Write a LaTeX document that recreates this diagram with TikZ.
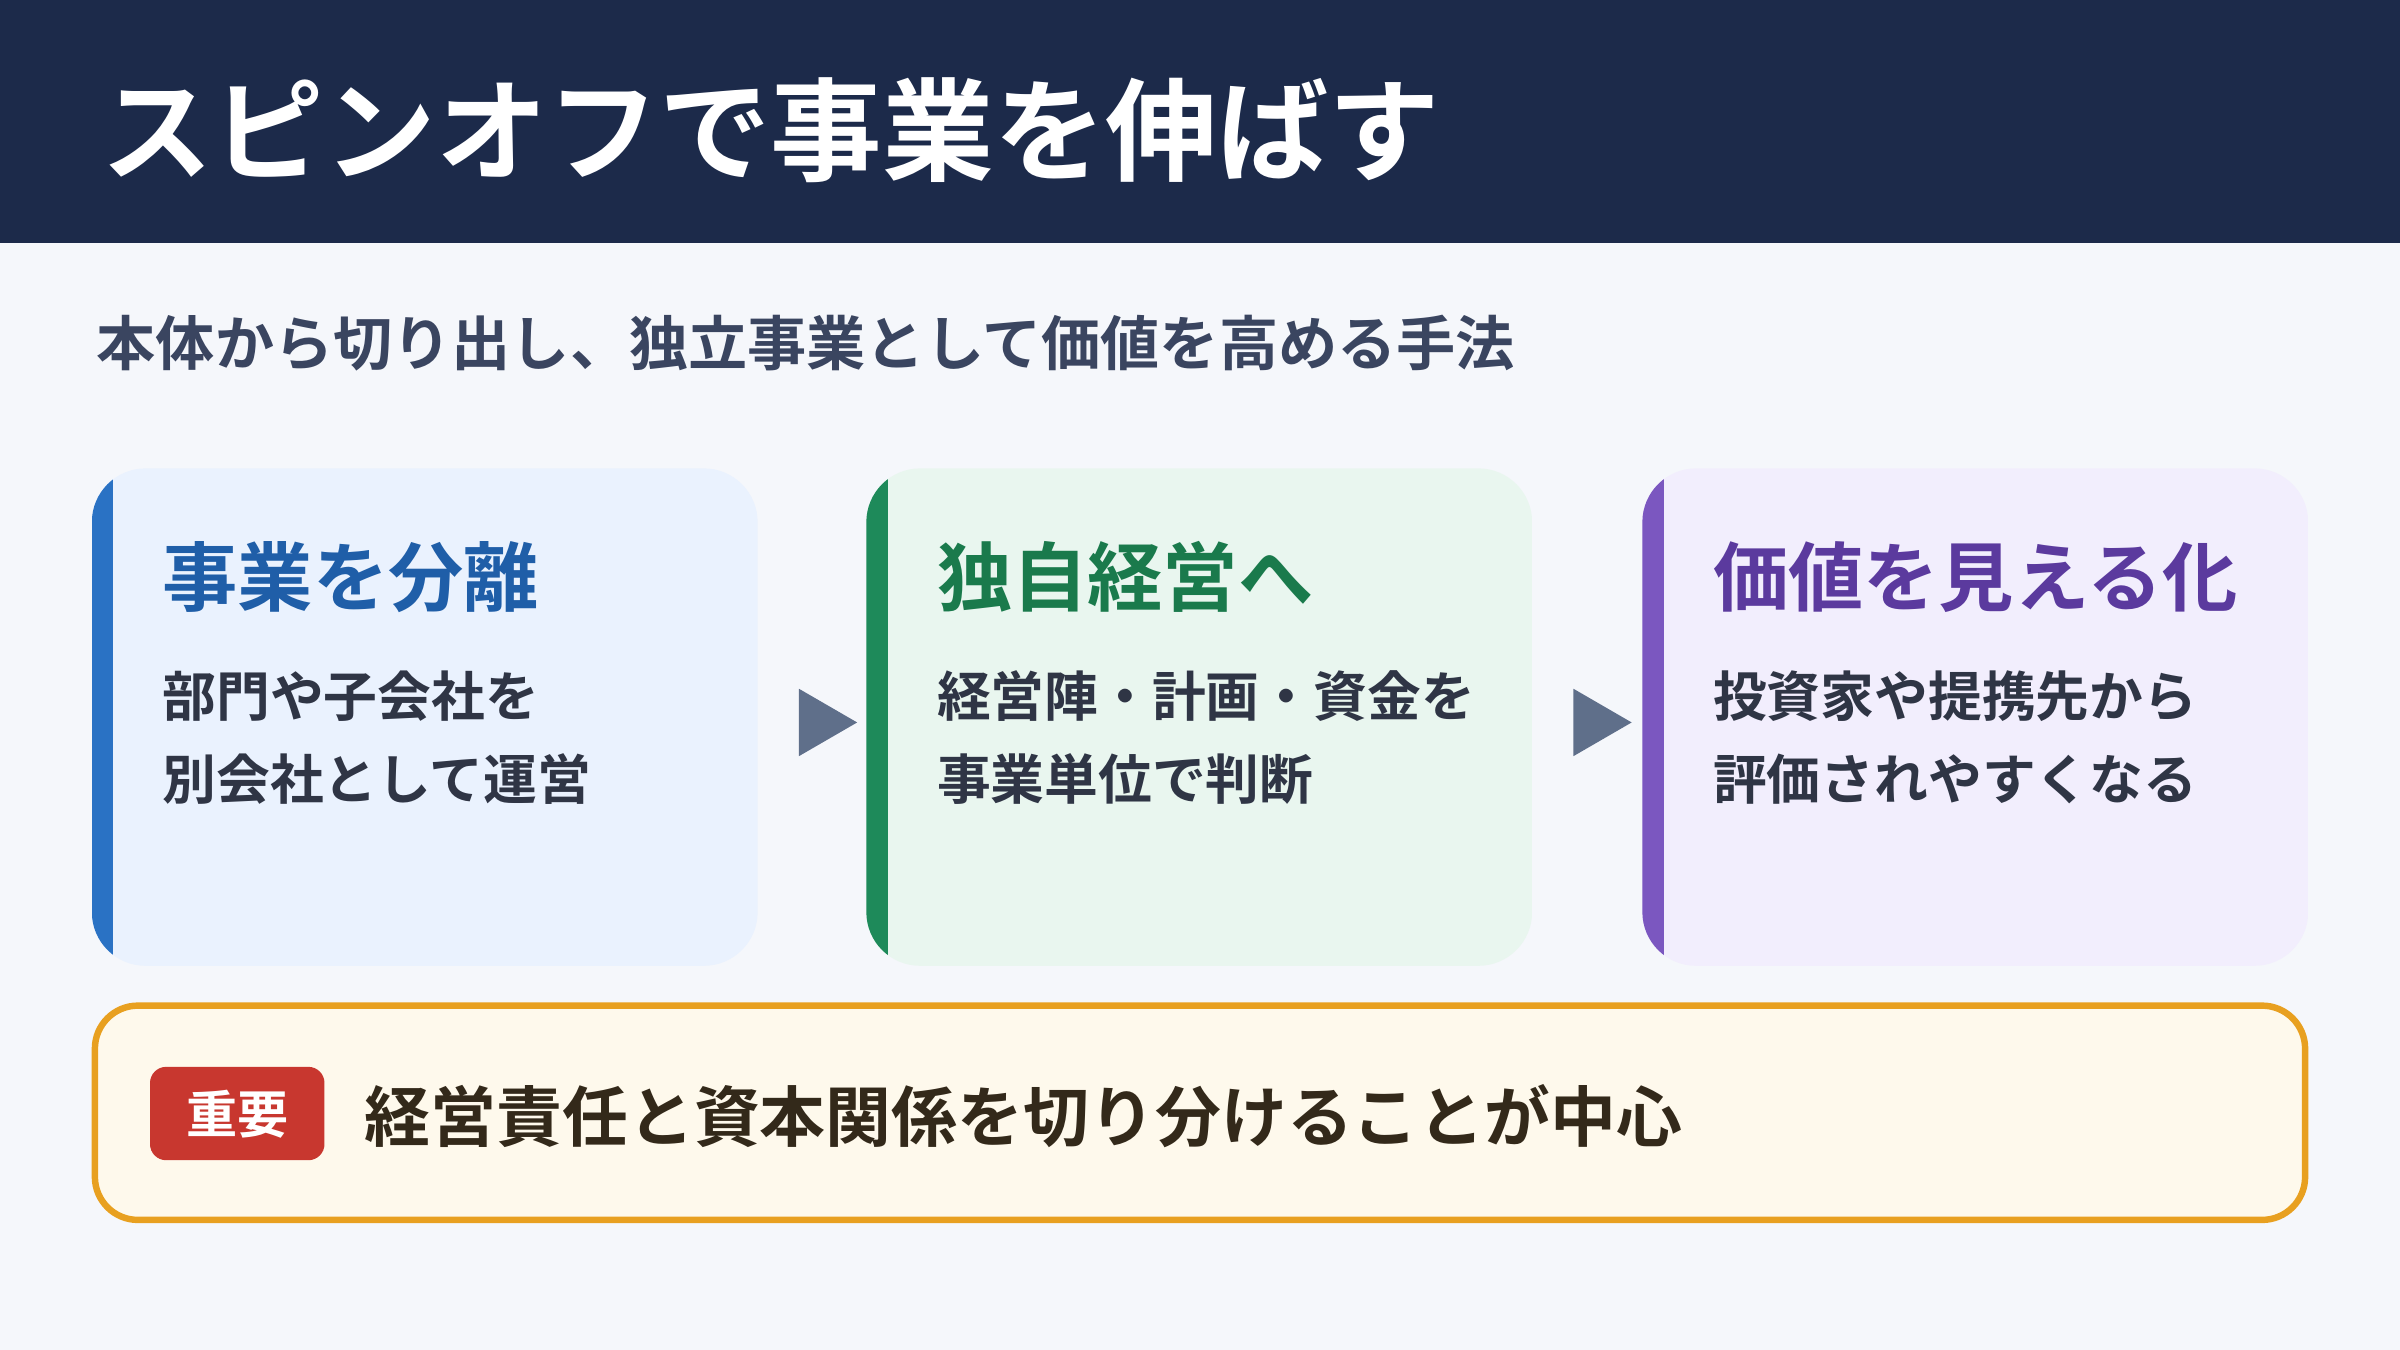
\documentclass[tikz,border=0pt]{standalone}
\usepackage{fontspec}
\setmainfont{Noto Sans CJK JP}[BoldFont={* Bold}]
\usetikzlibrary{positioning}
\definecolor{headbg}{HTML}{1C2A4A}
\definecolor{pagebg}{HTML}{F5F7FB}
\definecolor{subgray}{HTML}{3A4560}
\definecolor{bodygray}{HTML}{2F3545}
\definecolor{arrowgray}{HTML}{5F6F8A}
\definecolor{fillA}{HTML}{EAF2FE}
\definecolor{fillB}{HTML}{E9F6EF}
\definecolor{fillC}{HTML}{F2EEFD}
\definecolor{barA}{HTML}{2A72C4}
\definecolor{barB}{HTML}{1E8A5A}
\definecolor{barC}{HTML}{7B57C0}
\definecolor{titleA}{HTML}{1F5EA8}
\definecolor{titleB}{HTML}{1A7A4C}
\definecolor{titleC}{HTML}{5B3A9E}
\definecolor{noteFill}{HTML}{FEF9EC}
\definecolor{noteLine}{HTML}{E8A020}
\definecolor{badgeRed}{HTML}{C8372F}
\definecolor{noteText}{HTML}{33291A}
\tikzset{
	cardtitle/.style={anchor=west, font=\bfseries\fontsize{28}{32}\selectfont},
	cardbody/.style={anchor=north west, align=left, text=bodygray, font=\bfseries\fontsize{20}{31}\selectfont},
	flowarrow/.style={fill=arrowgray, draw=none}
}
\begin{document}
\begin{tikzpicture}[x=0.02cm, y=-0.02cm]

	%page and header
	\fill[pagebg] (0,0) rectangle (1568,882);
	\fill[headbg] (0,0) rectangle (1568,159);
	\node[anchor=west, text=white, font=\bfseries\fontsize{41.5}{46}\selectfont] (title) at (60,85) {スピンオフで事業を伸ばす};
	\node[anchor=west, text=subgray, font=\bfseries\fontsize{22}{26}\selectfont] (subtitle) at (57,224) {本体から切り出し、独立事業として価値を高める手法};

	%cards
	\foreach \x/\c/\name/\head/\lineA/\lineB in {60/A/cardA/事業を分離/部門や子会社を/別会社として運営, 566/B/cardB/独自経営へ/経営陣・計画・資金を/事業単位で判断, 1073/C/cardC/価値を見える化/投資家や提携先から/評価されやすくなる}{
		\begin{scope}
			\clip[rounded corners=20] (\x,306) rectangle (\x+435,631);
			\fill[fill\c] (\x,306) rectangle (\x+435,631);
			\fill[bar\c] (\x,306) rectangle (\x+14,631);
		\end{scope}
		\node[cardtitle, text=title\c] (\name title) at (\x+40,377) {\head};
		\node[cardbody] (\name body) at (\x+40,432) {\lineA\\\lineB};
	}

	%arrows between cards
	\coordinate (arrowA) at (522,450);
	\coordinate (arrowB) at (1028,450);
	\fill[flowarrow] (arrowA) -- ++(0,44) -- ++(38,-22) -- cycle;
	\fill[flowarrow] (arrowB) -- ++(0,44) -- ++(38,-22) -- cycle;

	%key point box
	\draw[noteLine, fill=noteFill, line width=2.4pt, rounded corners=16] (62,657) rectangle (1506,797);
	\fill[badgeRed, rounded corners=6] (98,697) rectangle (212,758);
	\node[text=white, font=\bfseries\fontsize{19}{22}\selectfont] (badge) at (155,728) {重要};
	\node[anchor=west, text=noteText, font=\bfseries\fontsize{24.5}{28}\selectfont] (note) at (232,729) {経営責任と資本関係を切り分けることが中心};

\end{tikzpicture}
\end{document}
